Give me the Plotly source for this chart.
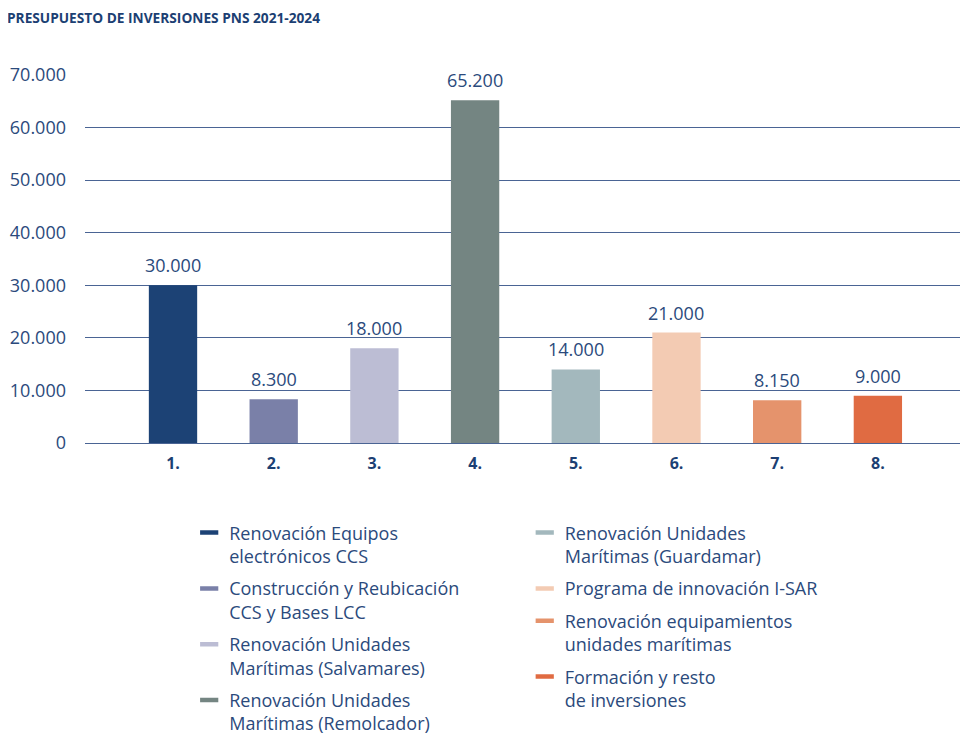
import plotly.graph_objects as go

# Data
categories = ["1.", "2.", "3.", "4.", "5.", "6.", "7.", "8."]
values = [30000, 8300, 18000, 65200, 14000, 21000, 8150, 9000]
names = [
    "Renovación Equipos<br>electrónicos CCS",
    "Construcción y Reubicación<br>CCS y Bases LCC",
    "Renovación Unidades<br>Marítimas (Salvamares)",
    "Renovación Unidades<br>Marítimas (Remolcador)",
    "Renovación Unidades<br>Marítimas (Guardamar)",
    "Programa de innovación I-SAR",
    "Renovación equipamientos<br>unidades marítimas",
    "Formación y resto<br>de inversiones",
]
colors = ["#1c4275", "#7a80a8", "#bcbdd4", "#748582",
          "#a3b8bd", "#f3cbb3", "#e5936c", "#e06b42"]
y_ticks = [0, 10000, 20000, 30000, 40000, 50000, 60000, 70000]

TEXT = "#2b4a7c"
DARK = "#1c3f73"
GRID = "#4a6494"
FONT = "Open Sans"

# page body has an 8px margin, so the figure is sized to fit inside the window
W, H = 960, 732
L, T, B = 77, 67, 297
PW, PH = W - L, H - T - B

fig = go.Figure()

fig.add_trace(go.Bar(
    x=categories,
    y=values,
    marker=dict(color=colors, line=dict(width=0)),
    width=0.48,
    showlegend=False,
    hoverinfo="skip",
))

# legend proxies: short thick line symbols, split in two columns
for i, (name, col) in enumerate(zip(names, colors)):
    fig.add_trace(go.Scatter(
        x=[None], y=[None],
        mode="markers",
        name=name,
        marker=dict(symbol="line-ew", size=13,
                    line=dict(color=col, width=4.5)),
        legend="legend" if i < 4 else "legend2",
        legendgroup=str(i),
    ))

# value labels above bars (x given as category index)
for i, v in enumerate(values):
    fig.add_annotation(
        x=i, y=v,
        text=f"{v:,}".replace(",", "."),
        showarrow=False,
        yanchor="bottom",
        yshift=6,
        font=dict(family=FONT, size=18, color=TEXT),
    )

# chart title
fig.add_annotation(
    text="<b>PRESUPUESTO DE INVERSIONES PNS 2021-2024</b>",
    xref="paper", yref="paper",
    x=(-3 - L) / PW, y=1 + (T - 10) / PH,
    xanchor="left", yanchor="middle",
    showarrow=False,
    font=dict(family=FONT, size=13.7, color=DARK),
)

legend_style = dict(
    font=dict(family=FONT, size=18, color=TEXT),
    bgcolor="rgba(0,0,0,0)",
    orientation="v",
    traceorder="grouped",
    tracegroupgap=6,
    valign="top",
    xanchor="left",
    yanchor="top",
    itemclick=False,
)

fig.update_layout(
    width=W,
    height=H,
    margin=dict(l=L, r=0, t=T, b=B, autoexpand=False),
    paper_bgcolor="white",
    plot_bgcolor="white",
    separators=",.",
    font=dict(family=FONT, color=TEXT),
    xaxis=dict(
        type="category",
        range=[-0.874, 7.895],
        showgrid=False,
        showline=False,
        zeroline=False,
        ticks="",
        ticklabelstandoff=9,
        tickfont=dict(family=FONT, size=16, color=DARK, weight="bold"),
        fixedrange=True,
    ),
    yaxis=dict(
        range=[0, 70000],
        tickvals=y_ticks,
        tickformat=",d",
        showgrid=True,
        gridcolor=GRID,
        gridwidth=1.3,
        zeroline=True,
        zerolinecolor=GRID,
        zerolinewidth=1.3,
        showline=False,
        ticks="",
        ticklabelstandoff=18,
        tickfont=dict(family=FONT, size=18, color=TEXT),
        fixedrange=True,
    ),
    legend=dict(x=0.118, y=-0.194, **legend_style),
    legend2=dict(x=0.498, y=-0.194, **legend_style),
    showlegend=True,
)

fig.write_html("out.html")
